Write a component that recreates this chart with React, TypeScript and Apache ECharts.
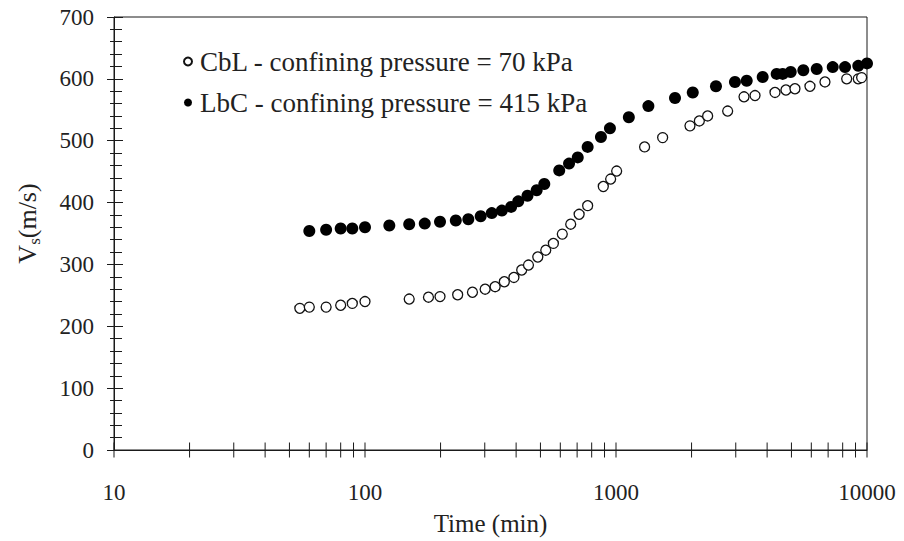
import React, { useEffect, useRef } from "react";
import * as echarts from "echarts";

const FONT = "'Liberation Serif', 'DejaVu Serif', 'Times New Roman', serif";

const cblName = "CbL - confining pressure = 70 kPa";
const lbcName = "LbC - confining pressure = 415 kPa";

const cblTime = [55, 60, 70, 80, 89, 100, 150, 179, 199, 234, 268, 301, 330, 359, 392, 421, 448, 488, 525, 563, 611, 660, 713, 771, 890, 952, 1006, 1300, 1534, 1971, 2148, 2318, 2785, 3236, 3580, 4300, 4754, 5164, 5926, 6800, 8300, 9230, 9520];
const cblVs = [229, 231, 231, 234, 237, 240, 244, 247, 248, 251, 255, 260, 264, 272, 279, 291, 299, 312, 323, 334, 349, 365, 381, 395, 426, 438, 451, 490, 505, 524, 532, 540, 548, 571, 573, 578, 582, 584, 588, 595, 600, 600, 602];

const lbcTime = [60, 70, 80, 89, 100, 125, 150, 173, 199, 230, 258, 289, 320, 351, 382, 408, 444, 483, 518, 594, 650, 704, 771, 871, 946, 1125, 1346, 1718, 2022, 2502, 2978, 3317, 3840, 4366, 4614, 4966, 5576, 6304, 7301, 8177, 9232, 10000];
const lbcVs = [354, 356, 358, 358, 360, 363, 365, 366, 369, 371, 373, 378, 383, 387, 393, 402, 411, 420, 430, 452, 463, 473, 490, 506, 520, 538, 556, 569, 578, 588, 595, 597, 603, 608, 608, 611, 614, 616, 619, 619, 621, 625];

const xTickValues = [10, 20, 30, 40, 50, 60, 70, 80, 90, 100, 200, 300, 400, 500, 600, 700, 800, 900, 1000, 2000, 3000, 4000, 5000, 6000, 7000, 8000, 9000, 10000];

const yMin = 0;
const yMax = 700;
const yInterval = 100;

export default function App() {
  const ref = useRef<HTMLDivElement>(null);
  useEffect(() => {
    if (!ref.current) return;
    const chart = echarts.init(ref.current, null, { renderer: "svg" });
    const ink = "#1a1a1a";
    const yBase = {
      type: "value",
      min: yMin,
      max: yMax,
      interval: yInterval,
      position: "left",
      splitLine: { show: false },
      minorSplitLine: { show: false },
    };
    chart.setOption({
      animation: false,
      backgroundColor: "#fff",
      textStyle: { fontFamily: FONT },
      grid: {
        left: 114,
        right: 37,
        top: 17,
        bottom: 91,
        show: true,
        borderColor: ink,
        borderWidth: 1,
      },
      legend: {
        data: [cblName, lbcName],
        orient: "vertical",
        left: 183,
        top: 48,
        padding: 0,
        itemWidth: 14,
        itemHeight: 8,
        itemGap: 14,
        selectedMode: false,
        textStyle: { fontSize: 27, fontFamily: FONT, color: "#222" },
      },
      xAxis: {
        type: "log",
        logBase: 10,
        min: 10,
        max: 10000,
        name: "Time (min)",
        nameLocation: "middle",
        nameGap: 61,
        nameTextStyle: { fontSize: 25, fontFamily: FONT, color: "#222" },
        axisLine: { show: true, lineStyle: { color: ink, width: 1 } },
        axisTick: { show: false },
        splitLine: { show: false },
        axisLabel: {
          fontSize: 23,
          fontFamily: FONT,
          color: "#222",
          margin: 31,
          formatter: (v: number) => String(Math.round(v)),
        },
      },
      yAxis: [
        {
          ...yBase,
          name: "{v|V}{s|s}{v|(m/s)}",
          nameLocation: "middle",
          nameGap: 71,
          nameTextStyle: {
            color: "#222",
            fontFamily: FONT,
            padding: [0, 0, 0, 20],
            rich: {
              v: { fontSize: 26, fontFamily: FONT, color: "#222" },
              s: { fontSize: 17, fontFamily: FONT, color: "#222", padding: [15, 0, 0, 0] },
            },
          },
          axisLine: { show: true, lineStyle: { color: ink, width: 1 } },
          axisTick: { show: true, inside: false, length: 7, lineStyle: { color: ink } },
          minorTick: { show: true, splitNumber: 5, length: 4, lineStyle: { color: ink } },
          axisLabel: { fontSize: 23, fontFamily: FONT, color: "#222", margin: 20 },
        },
        {
          ...yBase,
          axisLine: { show: false },
          axisTick: { show: true, inside: true, length: 9, lineStyle: { color: ink } },
          minorTick: { show: true, splitNumber: 5, length: 8, lineStyle: { color: ink } },
          axisLabel: { show: false },
        },
      ],
      series: [
        {
          name: "xticks",
          type: "scatter",
          yAxisIndex: 0,
          clip: false,
          silent: true,
          symbol: "rect",
          symbolSize: [1, 15],
          itemStyle: { color: ink, opacity: 1 },
          data: xTickValues.map((t) => [t, yMin]),
          z: 1,
        },
        {
          name: cblName,
          type: "scatter",
          yAxisIndex: 0,
          clip: false,
          symbol: "circle",
          symbolSize: 10,
          itemStyle: { color: "#fff", borderColor: "#111", borderWidth: 1.3, opacity: 1 },
          data: cblTime.map((t, i) => [t, cblVs[i]]),
          z: 3,
        },
        {
          name: lbcName,
          type: "scatter",
          yAxisIndex: 0,
          clip: false,
          symbol: "circle",
          symbolSize: 12,
          itemStyle: { color: "#000", opacity: 1 },
          data: lbcTime.map((t, i) => [t, lbcVs[i]]),
          z: 3,
        },
      ],
    });
    return () => chart.dispose();
  }, []);
  return (
    <div
      ref={ref}
      style={{ position: "fixed", left: 0, top: 0, width: 904, height: 541 }}
    />
  );
}
